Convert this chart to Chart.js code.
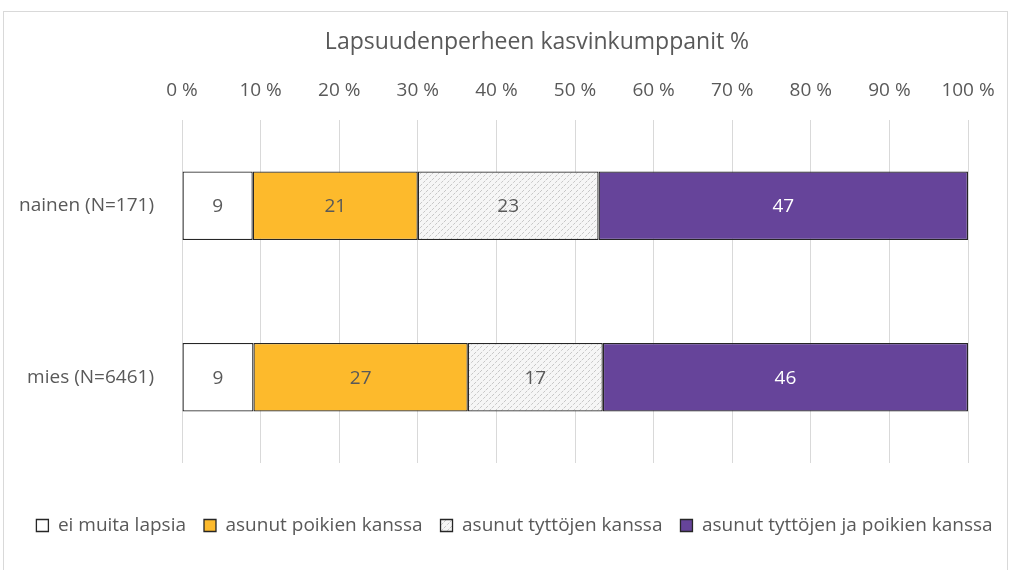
<!DOCTYPE html>
<html>
<head>
<meta charset="utf-8">
<script src="https://cdn.jsdelivr.net/npm/chart.js@4"></script>
<style>
  html, body { margin: 0; padding: 0; background: #fff; }
  #wrap { position: relative; width: 1013px; height: 570px; }
  #frame { position: absolute; left: 3px; top: 11px; width: 1005px; height: 570px; border: 1px solid #d9d9d9; box-sizing: border-box; }
  canvas { position: absolute; left: 0; top: 0; }
</style>
</head>
<body>
<div id="wrap">
  <div id="frame"></div>
  <canvas id="chart" width="1013" height="570"></canvas>
</div>
<script>
// kategoriat ja sarjat (osuudet %)
const categories = ['nainen (N=171)', 'mies (N=6461)'];
const seriesNames = ['ei muita lapsia', 'asunut poikien kanssa', 'asunut tyttöjen kanssa', 'asunut tyttöjen ja poikien kanssa'];
const eiMuita = [9, 9];
const poikien = [21, 27];
const tyttojen = [23, 17];
const molempien = [47, 46];
const tickLabels = ['0 %', '10 %', '20 %', '30 %', '40 %', '50 %', '60 %', '70 %', '80 %', '90 %', '100 %'];
const chartTitle = 'Lapsuudenperheen kasvinkumppanit %';

const FONT = '"Open Sans", sans-serif';
const GREY = '#595959';

// vinoviivakuvio
function makePattern() {
    const c = document.createElement('canvas');
    c.width = 6; c.height = 6;
    const g = c.getContext('2d');
    g.fillStyle = '#f6f6f6';
    g.fillRect(0, 0, 6, 6);
    g.strokeStyle = '#c2c2c2';
    g.lineWidth = 0.9;
    g.setLineDash([3, 1.5]);
    g.beginPath();
    g.moveTo(0, 6); g.lineTo(6, 0);
    g.moveTo(-3, 3); g.lineTo(3, -3);
    g.moveTo(3, 9); g.lineTo(9, 3);
    g.stroke();
    return g.createPattern(c, 'repeat');
}

const allSeries = [eiMuita, poikien, tyttojen, molempien];
const totals = categories.map((_, i) => allSeries.reduce((s, arr) => s + arr[i], 0));
const toPct = arr => arr.map((v, i) => v / totals[i] * 100);

const fills = ['#ffffff', '#fdba2c', makePattern(), '#66449a'];
const labelColors = [GREY, GREY, GREY, '#ffffff'];

const valueLabels = {
    id: 'valueLabels',
    afterDatasetsDraw(chart) {
        const ctx = chart.ctx;
        ctx.save();
        ctx.font = '19px ' + FONT;
        ctx.textAlign = 'center';
        ctx.textBaseline = 'middle';
        chart.data.datasets.forEach((ds, di) => {
            chart.getDatasetMeta(di).data.forEach((el, i) => {
                const p = el.getCenterPoint();
                ctx.fillStyle = labelColors[di];
                ctx.fillText(String(allSeries[di][i]), p.x, p.y + 1);
            });
        });
        ctx.restore();
    }
};

// otsikko piirretään itse, jotta keskitys vastaa alkuperäistä
const titlePlugin = {
    id: 'titleText',
    afterDraw(chart) {
        const ctx = chart.ctx;
        ctx.save();
        ctx.font = '23px ' + FONT;
        ctx.fillStyle = GREY;
        ctx.textAlign = 'center';
        ctx.textBaseline = 'middle';
        ctx.fillText(chartTitle, 537, 42);
        ctx.restore();
    }
};

window.onload = function () {
    const ctx = document.getElementById('chart').getContext('2d');
    new Chart(ctx, {
        type: 'bar',
        data: {
            labels: categories,
            datasets: allSeries.map((arr, i) => ({
                label: seriesNames[i],
                data: toPct(arr),
                backgroundColor: fills[i],
                borderColor: '#262626',
                borderWidth: 1.3,
                borderSkipped: false,
                barPercentage: 0.8,
                categoryPercentage: 0.5
            }))
        },
        options: {
            indexAxis: 'y',
            responsive: false,
            animation: false,
            layout: { padding: { left: 16, right: 0, top: 79, bottom: 25 } },
            scales: {
                x: {
                    position: 'top',
                    stacked: true,
                    min: 0,
                    max: 100,
                    ticks: {
                        stepSize: 10,
                        color: GREY,
                        font: { family: FONT, size: 19 },
                        padding: 18,
                        callback: (v, i) => tickLabels[i]
                    },
                    grid: { color: '#d9d9d9', drawTicks: false },
                    border: { display: false },
                    afterFit: s => { s.height = 41; }
                },
                x2: {
                    axis: 'x',
                    position: 'bottom',
                    grid: { display: false },
                    ticks: { display: false },
                    border: { display: false },
                    afterFit: s => { s.height = 35; }
                },
                y: {
                    stacked: true,
                    ticks: { color: GREY, font: { family: FONT, size: 19 }, padding: 20 },
                    grid: { display: false },
                    border: { display: false },
                    afterFit: s => { s.width = 166; }
                },
                y2: {
                    axis: 'y',
                    position: 'right',
                    grid: { display: false },
                    ticks: { display: false },
                    border: { display: false },
                    afterFit: s => { s.width = 45; }
                }
            },
            plugins: {
                title: { display: false },
                legend: {
                    position: 'bottom',
                    labels: {
                        color: GREY,
                        font: { family: FONT, size: 19 },
                        boxWidth: 12,
                        boxHeight: 12,
                        padding: 18
                    }
                },
                tooltip: { enabled: false }
            }
        },
        plugins: [valueLabels, titlePlugin]
    });
};
</script>
</body>
</html>
